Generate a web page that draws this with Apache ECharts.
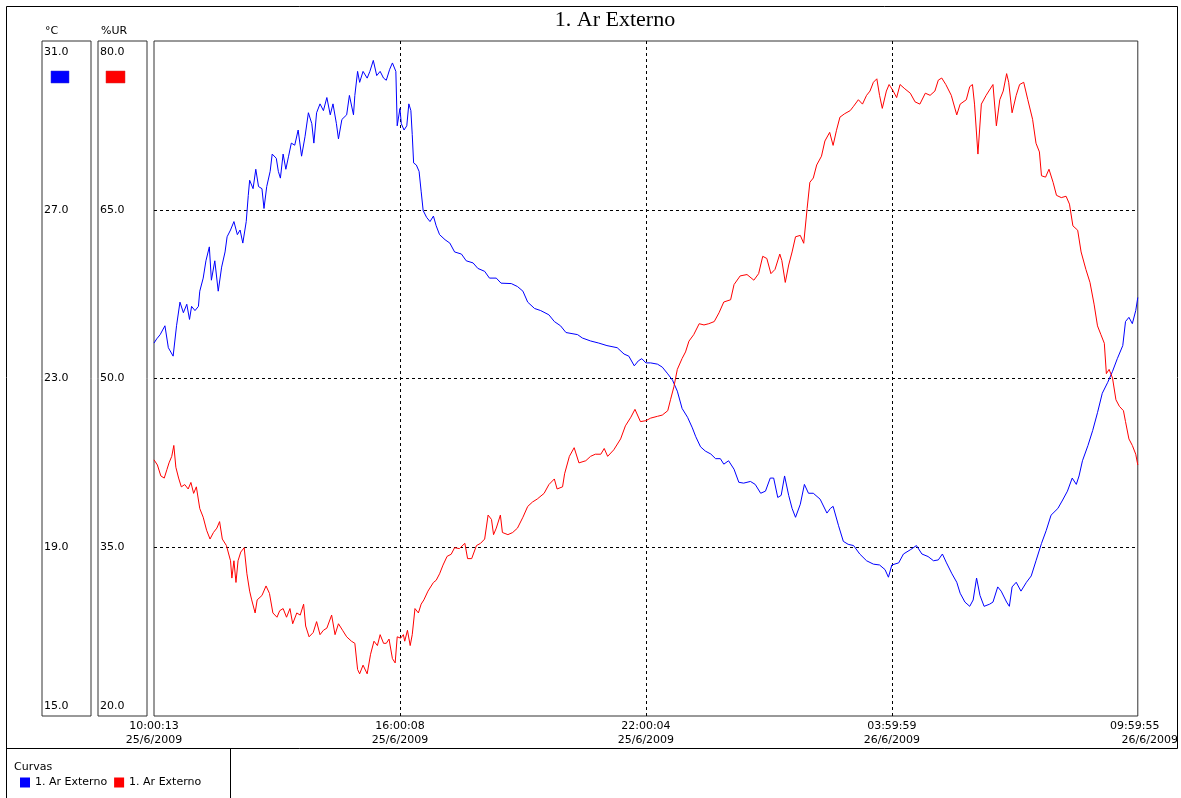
<!DOCTYPE html>
<html><head><meta charset="utf-8">
<script src="https://cdn.jsdelivr.net/npm/echarts@6/dist/echarts.min.js"></script>
<style>html,body{margin:0;padding:0;background:#fff}#c{width:1181px;height:798px}</style>
</head><body><div id="c"></div>
<script>
// X axis tick labels (minutes from start: 0, 360, 720, 1080, 1440)
const timeLabels = ['10:00:13','16:00:08','22:00:04','03:59:59','09:59:55'];
const dateLabels = ['25/6/2009','25/6/2009','25/6/2009','26/6/2009','26/6/2009'];
const seriesNames = ['1. Ar Externo','1. Ar Externo'];

// Temperature (°C) : [minutes since 10:00:13, value]
const tempData = [
[0,23.84],[4,23.94],[9,24.04],[16,24.25],[21,23.73],[28,23.53],[33,24.25],[38,24.81],[43,24.56],[48,24.76],
[52,24.40],[55,24.71],[60,24.61],[65,24.71],[67,25.07],[72,25.38],[76,25.79],[81,26.12],[84,25.33],[89,25.79],
[94,25.07],[99,25.64],[104,26.00],[107,26.36],[112,26.52],[117,26.72],[122,26.41],[126,26.52],[130,26.21],[135,26.72],
[138,27.34],[140,27.70],[145,27.50],[149,27.96],[153,27.55],[158,27.50],[161,27.03],[165,27.55],[170,27.91],[173,28.32],
[179,28.22],[182,27.91],[185,27.75],[189,28.32],[193,27.96],[197,28.27],[201,28.58],[206,28.53],[211,28.89],[216,28.27],
[221,28.73],[226,29.30],[231,29.04],[234,28.58],[238,29.30],[243,29.51],[248,29.35],[253,29.66],[258,29.25],[262,29.51],
[267,29.04],[270,28.68],[275,29.14],[282,29.25],[286,29.71],[292,29.25],[294,29.71],[298,30.28],[301,30.02],[306,30.28],
[312,30.12],[316,30.28],[321,30.54],[326,30.18],[331,30.28],[336,30.12],[340,30.07],[345,30.33],[349,30.48],[354,30.28],
[356,28.99],[360,29.40],
[362,29.04],[366,28.89],[370,28.99],[373,29.51],[376,29.35],[378,28.78],[380,28.11],[384,28.06],[388,27.91],[391,27.44],
[394,26.98],[399,26.82],[404,26.72],[409,26.85],[413,26.62],[418,26.41],[426,26.29],[433,26.21],[440,26.00],[450,25.95],
[457,25.79],[467,25.74],[474,25.61],[484,25.54],[491,25.38],[501,25.38],[508,25.26],[523,25.25],[532,25.18],[540,25.07],
[547,24.81],[557,24.66],[566,24.61],[578,24.51],[586,24.35],[595,24.25],[603,24.09],[620,24.04],[627,23.96],[639,23.89],
[651,23.84],[663,23.78],[678,23.73],[688,23.58],[695,23.53],[703,23.30],[709,23.42],[714,23.47],[720,23.37],
[727,23.37],[737,23.34],[744,23.27],[752,23.11],[759,22.96],[766,22.70],[773,22.29],[781,22.08],[788,21.83],[793,21.62],
[800,21.38],[807,21.28],[815,21.21],[822,21.10],[829,21.10],[834,20.97],[841,21.05],[849,20.85],[856,20.54],[863,20.52],
[873,20.56],[880,20.49],[888,20.28],[895,20.33],[902,20.64],[907,20.64],[913,20.18],[918,20.23],[923,20.69],[929,20.23],
[934,19.92],[939,19.71],[946,20.02],[952,20.49],[958,20.28],[965,20.28],[975,20.14],[985,19.81],[990,19.92],[994,19.97],
[1002,19.51],[1009,19.14],[1016,19.07],[1024,19.04],[1033,18.84],[1043,18.68],[1053,18.60],[1062,18.58],[1070,18.47],[1075,18.29],
[1080,18.58],[1090,18.63],[1097,18.84],[1107,18.94],[1116,19.04],[1124,18.84],[1133,18.78],[1141,18.68],[1148,18.70],[1154,18.84],
[1160,18.63],[1168,18.37],[1175,18.17],[1180,17.91],[1187,17.70],[1194,17.60],[1199,17.75],[1204,18.27],[1209,17.86],[1215,17.60],
[1223,17.65],[1228,17.70],[1235,18.06],[1240,17.96],[1248,17.70],[1252,17.60],[1256,18.06],[1262,18.17],[1269,17.96],[1277,18.17],
[1284,18.32],[1291,18.68],[1299,19.09],[1306,19.40],[1313,19.76],[1323,19.92],[1330,20.12],[1337,20.33],[1344,20.64],[1350,20.49],
[1354,20.69],[1359,21.05],[1367,21.41],[1374,21.77],[1381,22.19],[1388,22.65],[1396,22.91],[1403,23.17],[1410,23.47],[1418,23.78],
[1422,24.35],[1427,24.45],[1432,24.30],[1437,24.61],[1440,24.92]
];

// Relative humidity (%UR) : [minutes since 10:00:13, value]
const rhData = [
[0,42.77],[5,42.31],[10,41.34],[15,41.15],[19,41.92],[22,42.50],[26,43.08],[29,44.05],[32,42.11],[36,41.15],
[40,40.37],[45,40.57],[50,40.18],[54,40.76],[58,39.79],[62,40.37],[67,38.44],[72,37.67],[77,36.51],[82,35.73],
[87,36.31],[92,36.70],[96,37.28],[100,35.73],[106,35.15],[112,33.80],[114,32.26],[117,33.80],[120,31.87],[123,33.80],
[127,34.57],[132,34.96],[136,32.64],[140,31.10],[143,30.32],[148,29.16],[151,30.32],[158,30.71],[164,31.56],[169,30.90],
[174,29.16],[180,28.78],[184,29.36],[189,29.55],[194,28.78],[199,29.55],[203,28.20],[209,29.16],[214,28.97],[219,29.94],
[222,28.00],[227,27.04],[233,27.42],[238,28.39],[243,27.23],[248,27.62],[253,27.81],[260,28.97],[265,27.23],[270,28.20],
[276,27.62],[282,27.04],[289,26.65],[294,26.46],[298,24.14],[301,23.75],[306,24.52],[312,23.75],[317,25.49],[322,26.65],
[327,26.26],[331,27.23],[336,26.46],[340,26.46],[344,26.84],[349,25.10],[353,24.72],[356,27.04],
[361,26.92],[365,27.23],[367,26.65],[371,27.62],[375,26.26],[378,27.23],[382,29.55],[387,29.16],[391,29.94],[395,30.32],
[401,31.10],[409,31.87],[413,32.06],[418,32.64],[423,33.41],[429,34.19],[435,34.38],[440,34.96],[447,34.88],[455,35.35],
[459,33.99],[465,33.99],[472,35.15],[478,35.35],[484,35.73],[489,37.86],[494,37.47],[497,36.12],[501,36.70],[507,37.86],
[510,36.31],[518,36.12],[525,36.31],[532,36.70],[540,37.67],[547,38.63],[554,39.02],[561,39.29],[571,39.79],[578,40.57],
[586,41.07],[590,40.18],[598,40.37],[601,41.53],[608,43.08],[615,43.85],[622,42.50],[632,42.69],[639,43.08],[646,43.27],
[654,43.27],[659,43.78],[664,43.08],[673,43.66],[683,44.63],[690,45.79],[698,46.56],[704,47.26],[712,46.17],[720,46.25],
[727,46.48],[737,46.64],[744,46.75],[752,47.14],[756,48.11],[761,49.27],[766,50.81],[773,51.78],[778,52.36],[783,53.32],
[790,53.90],[798,54.87],[805,54.76],[812,54.87],[820,55.06],[827,55.84],[834,56.80],[844,57.00],[849,58.35],[858,59.12],
[868,59.24],[878,58.74],[885,59.32],[891,60.86],[897,60.67],[903,59.32],[909,59.70],[916,61.06],[919,60.48],[924,58.54],
[929,60.09],[934,61.25],[939,62.60],[946,62.72],[951,62.02],[956,65.12],[960,67.44],[965,67.82],[970,68.98],[977,69.76],
[982,71.11],[989,71.88],[994,70.72],[999,72.07],[1004,73.23],[1011,73.54],[1019,73.81],[1024,74.20],[1031,74.78],[1037,74.39],
[1043,75.17],[1048,75.55],[1053,76.33],[1058,76.64],[1062,75.17],[1066,74.01],[1072,75.55],[1076,76.13],
[1078,75.94],[1082,75.55],[1087,74.97],[1092,76.13],[1099,75.75],[1107,75.36],[1114,74.59],[1121,74.39],[1129,75.36],[1136,75.17],
[1143,75.55],[1148,76.52],[1153,76.71],[1159,76.13],[1167,75.17],[1175,73.43],[1180,74.39],[1189,74.78],[1194,75.94],[1198,76.13],
[1201,74.39],[1206,69.95],[1211,74.39],[1218,75.17],[1228,76.13],[1233,72.46],[1238,74.78],[1243,75.55],[1248,77.10],[1251,76.33],
[1256,73.62],[1262,75.17],[1267,76.13],[1273,76.33],[1279,74.78],[1286,73.04],[1291,70.91],[1296,70.14],[1299,68.02],[1305,67.90],
[1310,68.60],[1316,67.44],[1321,66.28],[1328,66.08],[1335,66.20],[1340,65.50],[1345,63.57],[1352,63.18],[1357,61.25],[1364,59.70],
[1370,58.54],[1376,56.61],[1381,54.68],[1386,53.90],[1391,53.13],[1394,50.43],[1398,50.81],[1403,50.04],[1408,48.11],[1413,47.53],
[1419,47.14],[1422,46.17],[1427,44.63],[1432,44.05],[1437,43.27],[1440,42.31]
];

const FONT = 'DejaVu Sans';
const chart = echarts.init(document.getElementById('c'), null, {renderer:'canvas'});

function yLabel(max, min){
  return function(v){
    const s = v.toFixed(1);
    if (v === max) return '{t|' + s + '}';
    if (v === min) return '{b|' + s + '}';
    return s;
  };
}

const option = {
  animation: false,
  backgroundColor: '#ffffff',
  grid: {left:154, top:41, width:987, height:675, show:true, borderColor:'#333', borderWidth:1},
  xAxis: {
    type:'value', min:0, max:1440, interval:360,
    axisLine:{show:false}, axisTick:{show:false},
    splitLine:{show:true, showMinLine:false, showMaxLine:false, lineStyle:{type:[3,3], color:'#000', width:1}},
    axisLabel:{
      margin:3, color:'#000', fontFamily:FONT, fontSize:11, showMinLabel:true, showMaxLabel:true,
      formatter: function(v){
        const i = Math.round(v/360);
        if (i === 4) return '{a|' + timeLabels[i] + '}\n{b|' + dateLabels[i] + '}';
        return '{n|' + timeLabels[i] + '}\n{n|' + dateLabels[i] + '}';
      },
      rich:{
        n:{lineHeight:14, align:'center', fontFamily:FONT, fontSize:11, color:'#000'},
        a:{lineHeight:14, align:'center', padding:[0,6,0,0], fontFamily:FONT, fontSize:11, color:'#000'},
        b:{lineHeight:14, align:'center', padding:[0,0,0,24], fontFamily:FONT, fontSize:11, color:'#000'}
      }
    }
  },
  yAxis: [
    {type:'value', min:15, max:31, interval:4, position:'left', offset:112,
     axisLine:{show:false}, axisTick:{show:false},
     splitLine:{show:true, showMinLine:false, showMaxLine:false, lineStyle:{type:[3,3], color:'#000', width:1}},
     axisLabel:{inside:true, margin:2, color:'#000', fontFamily:FONT, fontSize:11, formatter:yLabel(31,15),
       rich:{t:{padding:[22,0,0,0], fontFamily:FONT, fontSize:11, color:'#000'}, b:{padding:[0,0,20,0], fontFamily:FONT, fontSize:11, color:'#000'}}}},
    {type:'value', min:20, max:80, interval:15, position:'left', offset:56,
     axisLine:{show:false}, axisTick:{show:false}, splitLine:{show:false},
     axisLabel:{inside:true, margin:2, color:'#000', fontFamily:FONT, fontSize:11, formatter:yLabel(80,20),
       rich:{t:{padding:[22,0,0,0], fontFamily:FONT, fontSize:11, color:'#000'}, b:{padding:[0,0,20,0], fontFamily:FONT, fontSize:11, color:'#000'}}}}
  ],
  legend: {
    left:20, top:777, itemWidth:10, itemHeight:10, itemGap:7, icon:'rect', padding:0,
    data:['temp','rh'],
    formatter: function(n){ return n === 'temp' ? seriesNames[0] : seriesNames[1]; },
    textStyle:{fontFamily:FONT, fontSize:11, color:'#000'}
  },
  series: [
    {name:'temp', type:'line', yAxisIndex:0, data:tempData, showSymbol:false, symbol:'none',
     lineStyle:{width:1, color:'#0000ff'}, itemStyle:{color:'#0000ff'}},
    {name:'rh', type:'line', yAxisIndex:1, data:rhData, showSymbol:false, symbol:'none',
     lineStyle:{width:1, color:'#ff0000'}, itemStyle:{color:'#ff0000'}}
  ],
  graphic: [
    {type:'rect', shape:{x:6.5, y:6.5, width:1171, height:742}, style:{fill:null, stroke:'#000', lineWidth:1}, silent:true},
    {type:'line', shape:{x1:6.5, y1:748, x2:6.5, y2:798}, style:{stroke:'#000', lineWidth:1}, silent:true},
    {type:'line', shape:{x1:230.5, y1:748, x2:230.5, y2:798}, style:{stroke:'#000', lineWidth:1}, silent:true},
    {type:'rect', shape:{x:42, y:41, width:49, height:675}, style:{fill:null, stroke:'#333', lineWidth:1}, silent:true},
    {type:'rect', shape:{x:98, y:41, width:49, height:675}, style:{fill:null, stroke:'#333', lineWidth:1}, silent:true},
    {type:'rect', shape:{x:51, y:71, width:18, height:12}, style:{fill:'#0000ff', stroke:'#3333cc', lineWidth:0.5}, silent:true},
    {type:'rect', shape:{x:106, y:71, width:19, height:12}, style:{fill:'#ff0000', stroke:'#cc3333', lineWidth:0.5}, silent:true},
    {type:'text', x:45, y:31, style:{text:'°C', font:'11px "DejaVu Sans"', fill:'#000', textAlign:'left', textVerticalAlign:'middle'}, silent:true},
    {type:'text', x:101, y:31, style:{text:'%UR', font:'11px "DejaVu Sans"', fill:'#000', textAlign:'left', textVerticalAlign:'middle'}, silent:true},
    {type:'text', x:615, y:20, style:{text:'1. Ar Externo', font:'22px "Liberation Serif"', fill:'#000', textAlign:'center', textVerticalAlign:'middle'}, silent:true},
    {type:'text', x:14, y:767, style:{text:'Curvas', font:'11px "DejaVu Sans"', fill:'#000', textAlign:'left', textVerticalAlign:'middle'}, silent:true}
  ]
};
chart.setOption(option);
</script>
</body></html>
